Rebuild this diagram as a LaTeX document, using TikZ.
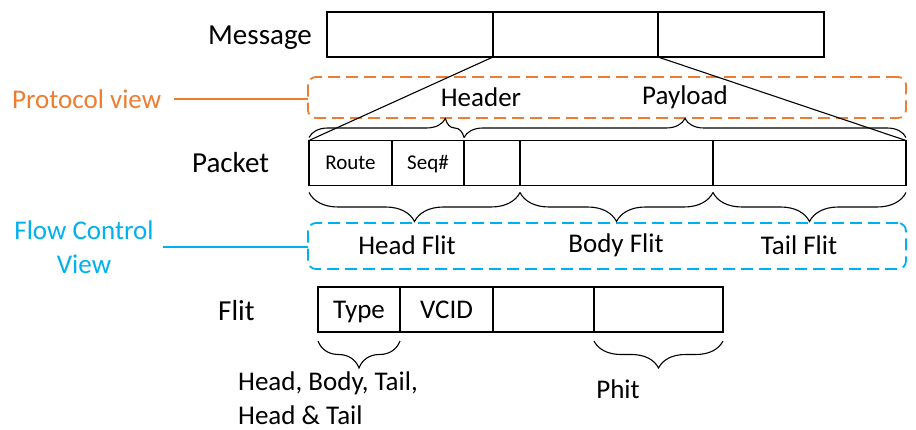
\documentclass[tikz,border=0pt]{standalone}
\usepackage{fontspec}
\setmainfont{Carlito}
\usetikzlibrary{decorations.pathreplacing}
\definecolor{protoorange}{RGB}{237,125,49}
\definecolor{flowblue}{RGB}{0,176,240}
\tikzstyle{field} = [rectangle, draw=black, line width=1.6pt, inner sep=0pt, outer sep=0pt, minimum height=45pt, text height=13.5pt, text depth=0pt, font=\fontsize{21}{24}\selectfont]
\tikzstyle{bigfield} = [field, text height=17.4pt, font=\fontsize{27}{34}\selectfont]
\tikzstyle{rowname} = [anchor=base west, inner sep=0pt, font=\fontsize{29}{34}\selectfont]
\tikzstyle{txt} = [inner sep=0pt, font=\fontsize{27}{34}\selectfont]
\tikzstyle{view} = [rectangle, rounded corners=8pt, dash pattern=on 12pt off 6pt, line width=1.8pt, minimum width=598pt, inner sep=0pt, outer sep=0pt]
\tikzstyle{viewline} = [line width=1.8pt]
\tikzstyle{curly} = [decorate, line width=1.1pt]
\tikzstyle{zoomline} = [line width=1.1pt]

\begin{document}
\begin{tikzpicture}[x=1pt, y=-1pt]
\useasboundingbox (0,0) rectangle (916,430);

\node (message) [rowname] at (208,45) {Message};
\node (m1) [field, minimum width=166pt] at (410,34.5) {};
\node (m2) [field, minimum width=165pt] at (575.5,34.5) {};
\node (m3) [field, minimum width=166pt] at (741,34.5) {};

\node (protocol) [view, draw=protoorange, minimum height=41pt] at (607,97.5) {};
\node (protolabel) [txt, anchor=west, text=protoorange] at (12,99) {Protocol view};
\node (header) [txt] at (481,97) {Header};
\node (payload) [txt] at (685,97) {Payload};

\node (packet) [rowname] at (192,173) {Packet};
\node (route) [field, minimum width=83pt] at (350.5,163) {Route};
\node (seq) [field, minimum width=72pt] at (428,163) {Seq\#};
\node (p3) [field, minimum width=56pt] at (492,163) {};
\node (p4) [field, minimum width=193pt] at (616.5,163) {};
\node (p5) [field, minimum width=193pt] at (809.5,163) {};

\node (flow) [view, draw=flowblue, minimum height=46pt] at (607,246) {};
\node (flowlabel) [txt, text=flowblue, align=center] at (84,247) {Flow Control\\View};
\node (headflit) [txt] at (407,245) {Head Flit};
\node (bodyflit) [txt] at (616,245) {Body Flit};
\node (tailflit) [txt] at (799,245) {Tail Flit};

\node (flit) [rowname] at (218,321) {Flit};
\node (type) [bigfield, minimum width=82pt] at (359,309.5) {Type};
\node (vcid) [bigfield, minimum width=93pt] at (446.5,309.5) {VCID};
\node (f3) [field, minimum width=101pt] at (543.5,309.5) {};
\node (f4) [field, minimum width=129pt] at (658.5,309.5) {};
\node (types) [txt, anchor=base west, align=left] at (238,424) {Head, Body, Tail,\\Head \& Tail};
\node (phit) [txt] at (618,389) {Phit};

\draw [viewline, protoorange, shorten <=13pt] (protolabel.east) -- (protolabel.east -| protocol.west);
\draw [viewline, flowblue, shorten <=9pt] (flowlabel.east) -- (flowlabel.east -| flow.west);

\draw [zoomline] (m1.south east) -- (route.north west);
\draw [zoomline] (m2.south east) -- (p5.north east);

\draw [curly, decoration={brace, amplitude=19pt, aspect=0.88, raise=3pt}] (route.north west) -- (seq.north east);
\draw [curly, decoration={brace, amplitude=19pt, raise=3pt}] (p3.north west) -- (p5.north east);

\draw [curly, decoration={brace, mirror, amplitude=29pt, raise=7pt}] (route.south west) -- (p3.south east);
\draw [curly, decoration={brace, mirror, amplitude=29pt, raise=7pt}] (p4.south west) -- (p4.south east);
\draw [curly, decoration={brace, mirror, amplitude=29pt, raise=7pt}] (p5.south west) -- (p5.south east);

\draw [curly, decoration={brace, mirror, amplitude=27pt, raise=9pt}] (type.south west) -- (type.south east);
\draw [curly, decoration={brace, mirror, amplitude=27pt, raise=9pt}] (f4.south west) -- (f4.south east);

\end{tikzpicture}
\end{document}
